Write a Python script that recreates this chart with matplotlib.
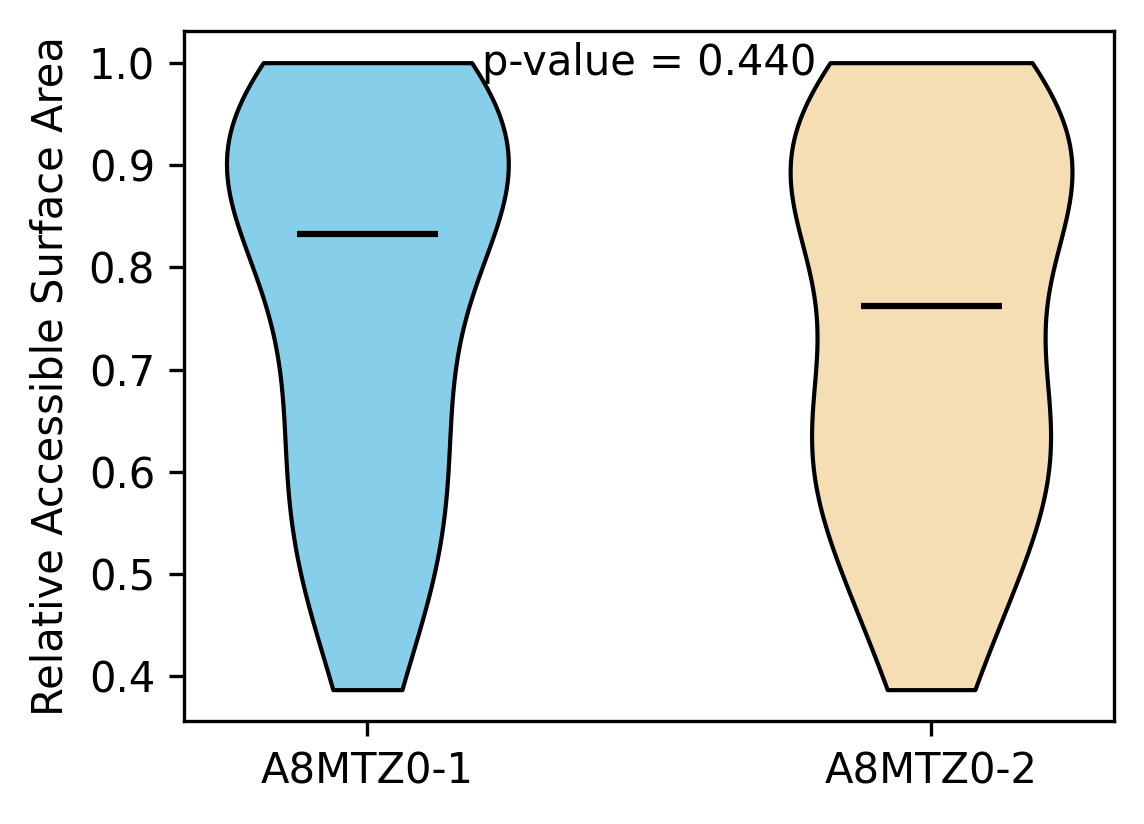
import numpy as np
import matplotlib.pyplot as plt

labels = ['A8MTZ0-1', 'A8MTZ0-2']
rsa_1 = [0.387, 0.47, 0.50, 0.53, 0.56, 0.60, 0.63, 0.67, 0.70, 0.74, 0.78, 0.82,
         0.845, 0.87, 0.88, 0.89, 0.91, 0.92, 0.93, 0.94, 0.96, 0.98, 1.0, 1.0]
rsa_2 = [0.387, 0.45, 0.49, 0.53, 0.56, 0.59, 0.61, 0.63, 0.65, 0.67, 0.69, 0.705,
         0.82, 0.83, 0.845, 0.86, 0.88, 0.90, 0.92, 0.935, 0.95, 0.97, 0.99, 1.0]
colors = ['skyblue', 'wheat']
p_text = 'p-value = 0.440'

fig = plt.figure(figsize=(1144 / 300, 824 / 300), dpi=300)
ax = fig.add_axes([0.161, 0.125, 0.813, 0.837])

parts = ax.violinplot([rsa_1, rsa_2], positions=[1, 2], showmedians=True,
                      showextrema=False)
for body, c in zip(parts['bodies'], colors):
    body.set_facecolor(c)
    body.set_edgecolor('black')
    body.set_linewidth(1)
    body.set_alpha(1)
parts['cmedians'].set_color('black')
parts['cmedians'].set_linewidth(1.5)

ax.text(1.5, 1.0, p_text, ha='center', va='center', fontsize=10)
ax.set_xticks([1, 2])
ax.set_xticklabels(labels)
ax.set_ylabel('Relative Accessible Surface Area')

fig.savefig('out.png', dpi=300)
